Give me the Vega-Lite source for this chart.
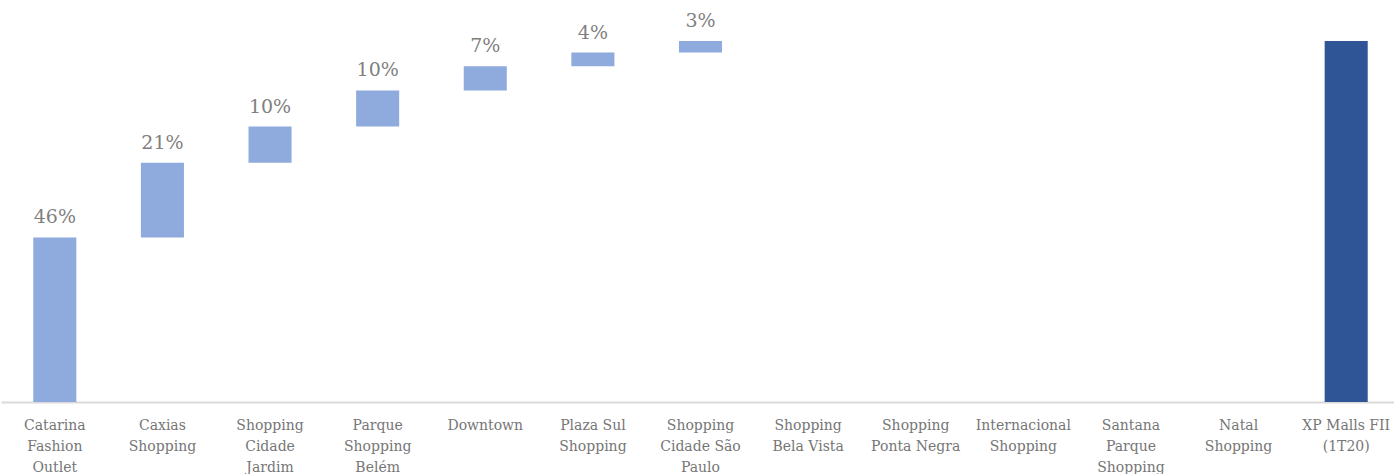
{
  "$schema": "https://vega.github.io/schema/vega-lite/v6.json",
  "width": 1394,
  "height": 361,
  "autosize": {"type": "none"},
  "padding": {"top": 41, "left": 0, "right": 0, "bottom": 72},
  "background": "white",
  "config": {"view": {"stroke": null}},
  "data": {
    "values": [
      {"name": "Catarina\nFashion\nOutlet", "start": 0, "end": 45.6, "label": "46%", "type": "item"},
      {"name": "Caxias\nShopping", "start": 45.6, "end": 66.3, "label": "21%", "type": "item"},
      {"name": "Shopping\nCidade\nJardim", "start": 66.3, "end": 76.3, "label": "10%", "type": "item"},
      {"name": "Parque\nShopping\nBelém", "start": 76.3, "end": 86.3, "label": "10%", "type": "item"},
      {"name": "Downtown", "start": 86.3, "end": 93.0, "label": "7%", "type": "item"},
      {"name": "Plaza Sul\nShopping", "start": 93.0, "end": 96.8, "label": "4%", "type": "item"},
      {"name": "Shopping\nCidade São\nPaulo", "start": 96.8, "end": 100, "label": "3%", "type": "item"},
      {"name": "Shopping\nBela Vista", "start": 100, "end": 100, "label": "", "type": "item"},
      {"name": "Shopping\nPonta Negra", "start": 100, "end": 100, "label": "", "type": "item"},
      {"name": "Internacional\nShopping", "start": 100, "end": 100, "label": "", "type": "item"},
      {"name": "Santana\nParque\nShopping", "start": 100, "end": 100, "label": "", "type": "item"},
      {"name": "Natal\nShopping", "start": 100, "end": 100, "label": "", "type": "item"},
      {"name": "XP Malls FII\n(1T20)", "start": 0, "end": 100, "label": "", "type": "total"}
    ]
  },
  "encoding": {
    "x": {
      "field": "name",
      "type": "nominal",
      "sort": null,
      "scale": {"paddingInner": 0.6, "paddingOuter": 0.3, "range": [1, 1400]},
      "axis": {
        "title": null,
        "labelAngle": 0,
        "labelExpr": "split(datum.value, '\\n')",
        "labelFont": "DejaVu Serif",
        "labelFontSize": 14,
        "labelColor": "#767676",
        "labelLineHeight": 21,
        "labelPadding": 16,
        "labelLimit": 200,
        "ticks": false,
        "domainColor": "#D9D9D9",
        "domainWidth": 2,
        "grid": false
      }
    }
  },
  "layer": [
    {
      "mark": {"type": "bar"},
      "encoding": {
        "y": {
          "field": "start",
          "type": "quantitative",
          "scale": {"domain": [0, 100], "nice": false},
          "axis": null
        },
        "y2": {"field": "end"},
        "color": {
          "field": "type",
          "type": "nominal",
          "scale": {"domain": ["item", "total"], "range": ["#8FAADC", "#2F5597"]},
          "legend": null
        }
      }
    },
    {
      "mark": {"type": "text", "dy": -20, "font": "DejaVu Serif", "fontSize": 19, "color": "#7F7F7F", "baseline": "middle"},
      "encoding": {
        "y": {"field": "end", "type": "quantitative"},
        "text": {"field": "label"}
      }
    }
  ]
}
